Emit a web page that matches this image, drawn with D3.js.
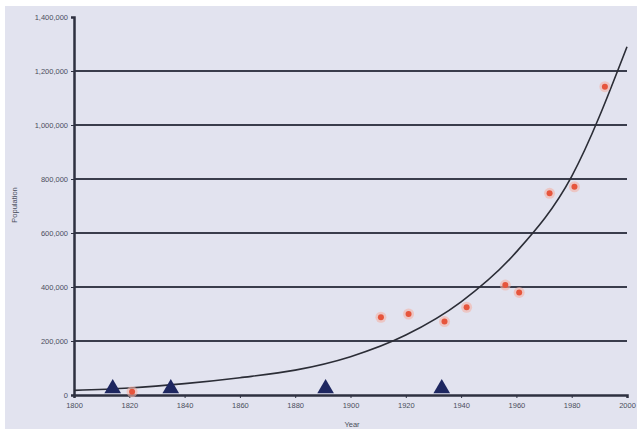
<!DOCTYPE html>
<html>
<head>
<meta charset="utf-8">
<script src="https://cdn.jsdelivr.net/npm/d3@7"></script>
<style>
  body { margin: 0; background: #fff; }
  text { font-family: "Liberation Sans", Arial, sans-serif; fill: #4a4e5c; }
</style>
</head>
<body>
<div id="chart"></div>
<script>
// Observed census points (year, population)
const pointYears = [1821, 1911, 1921, 1934, 1942, 1956, 1961, 1972, 1981, 1992];
const pointValues = [12000, 288000, 300000, 272000, 325000, 407000, 380000, 747000, 771000, 1142000];

// Marker triangles on the baseline
const markerYears = [1814, 1835, 1891, 1933];

// Trend curve at each 20-year tick
const curveYears = [1800, 1820, 1840, 1860, 1880, 1900, 1920, 1940, 1960, 1980, 2000];
const curveValues = [17000, 26000, 42000, 64000, 92000, 142000, 222000, 345000, 530000, 810000, 1290000];

const xTicks = [1800, 1820, 1840, 1860, 1880, 1900, 1920, 1940, 1960, 1980, 2000];
const yTicks = [0, 200000, 400000, 600000, 800000, 1000000, 1200000, 1400000];

const W = 641, H = 429;
const margin = { top: 17, right: 14, bottom: 34, left: 74 };
const width = W - margin.left - margin.right;
const height = H - margin.top - margin.bottom;

const svg = d3.select('#chart').append('svg')
  .attr('width', W)
  .attr('height', H);

svg.append('rect')
  .attr('x', 5).attr('y', 6)
  .attr('width', 632).attr('height', 423)
  .attr('fill', '#e2e3ef');

const g = svg.append('g')
  .attr('transform', 'translate(' + margin.left + ',' + margin.top + ')');

const x = d3.scaleLinear().domain([1800, 2000]).range([0, width]);
const y = d3.scaleLinear().domain([0, 1400000]).range([height, 0]);

// gridlines
g.append('g')
  .selectAll('line')
  .data(yTicks.filter(d => d > 0 && d < 1400000))
  .enter().append('line')
  .attr('x1', 0).attr('x2', width)
  .attr('y1', d => y(d)).attr('y2', d => y(d))
  .attr('stroke', '#3a3d4c')
  .attr('stroke-width', 2);

// y axis
const yAxis = d3.axisLeft(y).tickValues(yTicks).tickSize(3).tickFormat(d3.format(','));
const yg = g.append('g').call(yAxis);
yg.select('.domain').attr('stroke', '#2e3140').attr('stroke-width', 2.5);
yg.selectAll('.tick line').attr('stroke', '#2e3140');
yg.selectAll('.tick text').attr('font-size', 7.5).attr('x', -6).attr('fill', '#4a4e5c');

// x axis
const xAxis = d3.axisBottom(x).tickValues(xTicks).tickSize(3).tickFormat(d3.format('d'));
const xg = g.append('g').attr('transform', 'translate(0,' + height + ')').call(xAxis);
xg.select('.domain').attr('stroke', '#2e3140').attr('stroke-width', 2.5);
xg.selectAll('.tick line').attr('stroke', '#2e3140');
xg.selectAll('.tick text').attr('font-size', 7.5).attr('y', 8).attr('fill', '#4a4e5c');

// axis titles
svg.append('text')
  .attr('x', 352).attr('y', 427)
  .attr('text-anchor', 'middle')
  .attr('font-size', 7.5)
  .text('Year');

svg.append('text')
  .attr('transform', 'translate(17,205) rotate(-90)')
  .attr('text-anchor', 'middle')
  .attr('font-size', 7.5)
  .text('Population');

// trend curve
const line = d3.line()
  .x((d, i) => x(curveYears[i]))
  .y(d => y(d))
  .curve(d3.curveMonotoneX);

g.append('path')
  .datum(curveValues)
  .attr('fill', 'none')
  .attr('stroke', '#2b2d36')
  .attr('stroke-width', 1.6)
  .attr('d', line);

// triangles
const tri = d3.symbol().type(d3.symbolTriangle).size(120);
g.selectAll('.tri')
  .data(markerYears)
  .enter().append('path')
  .attr('class', 'tri')
  .attr('d', tri)
  .attr('transform', d => 'translate(' + x(d) + ',' + (height - 6.5) + ')')
  .attr('fill', '#1e2760');

// points
g.selectAll('.halo')
  .data(pointValues)
  .enter().append('circle')
  .attr('class', 'halo')
  .attr('cx', (d, i) => x(pointYears[i]))
  .attr('cy', d => y(d))
  .attr('r', 5.5)
  .attr('fill', '#f4b3a6')
  .attr('opacity', 0.6);

g.selectAll('.pt')
  .data(pointValues)
  .enter().append('circle')
  .attr('class', 'pt')
  .attr('cx', (d, i) => x(pointYears[i]))
  .attr('cy', d => y(d))
  .attr('r', 3)
  .attr('fill', '#e6553c');
</script>
</body>
</html>
